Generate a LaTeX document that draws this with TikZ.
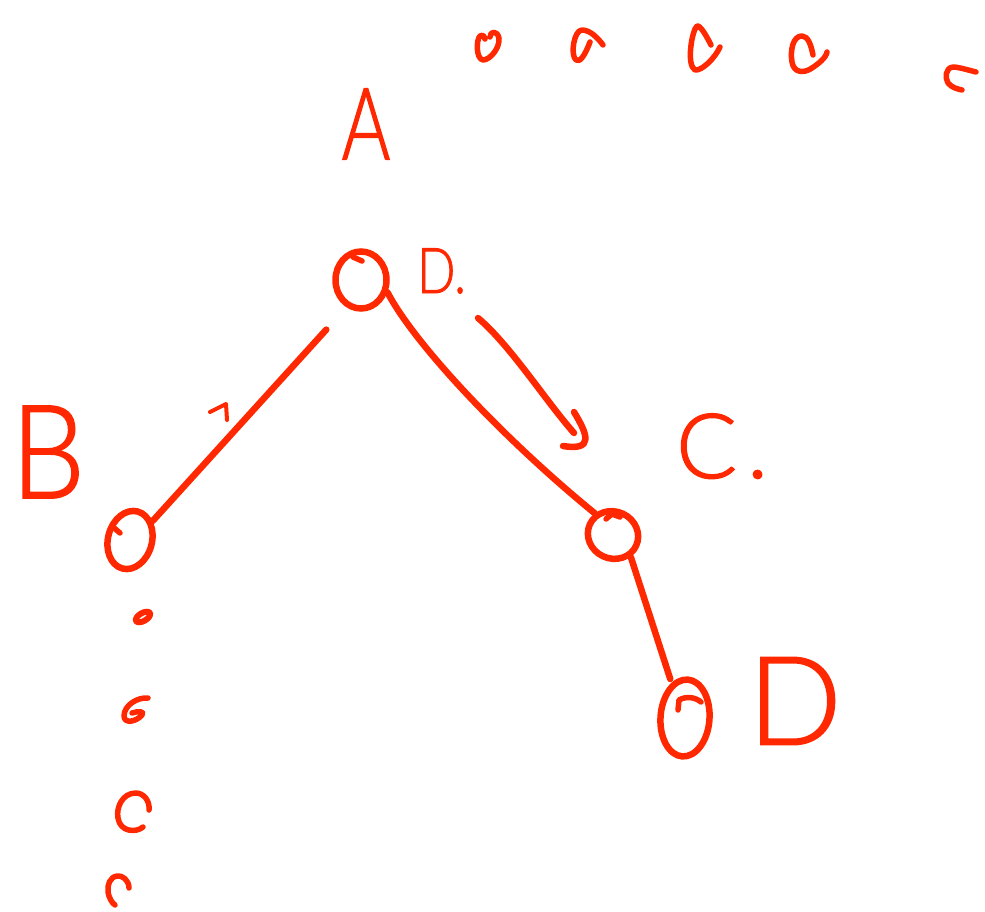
\documentclass[tikz,border=0pt]{standalone}
\usepackage{fontspec}
\IfFontExistsTF{Lato Light}{\setmainfont{Lato Light}[FakeBold=1.5]}{\setmainfont{Liberation Sans}}
\usetikzlibrary{shapes.geometric}
\definecolor{pen}{RGB}{255,40,0}
\begin{document}
\begin{tikzpicture}[x=1pt,y=-1pt,
  ink/.style={draw=pen,line width=6.5pt,line cap=round,line join=round},
  fine/.style={draw=pen,line width=5.5pt,line cap=round,line join=round},
  vertex/.style={ellipse,draw=pen,line width=6.5pt,inner sep=0pt},
  letter/.style={text=pen,inner sep=0pt,font=\fontsize{#1}{#1}\selectfont}]
\useasboundingbox (0,0) rectangle (985,912);

% tree vertices
\node[vertex,minimum width=51pt,minimum height=57pt] (a) at (361,280) {};
\node[vertex,minimum width=44pt,minimum height=59pt,rotate=-15] (b) at (130,540) {};
\node[vertex,minimum width=51pt,minimum height=47pt,rotate=-25] (c) at (613,535) {};
\node[vertex,minimum width=49pt,minimum height=77pt,rotate=-4] (d) at (685,718) {};

% pen-stroke starts on the vertices
\draw[fine] (353,257) -- (362,261);
\draw[fine] (113,527) -- (120,533);
\draw[fine] (606,519) -- (612,514) -- (620,517);
\draw[fine] (678,710) -- (679,700) .. controls (686,696) and (695,697) .. (701,702);

% labels
\node[letter=100,xscale=.74] (la) at (366,124) {A};
\node[letter=130,xscale=.9] (lb) at (48,452) {B};
\node[letter=90,anchor=base west] (lc) at (676,478) {C\kern10pt.};
\node[letter=123] (ld) at (795,701) {D};
\node[letter=63,xscale=.8,anchor=base west] (ln) at (417,293) {D.};

% edges
\draw[ink,shorten <=30pt] (a.-118) -- (b.55);
\draw[ink] (a.-25) .. controls (415,345) and (505,440) .. (c.155);
\draw[ink,shorten >=4pt] (c.-26) -- (d.115);

% traversal arrow
\coordinate (p) at (478,318);
\coordinate (q) at (574,433);
\draw[ink] (p) .. controls (510,345) and (545,400) .. (q);
\draw[ink] ([shift={(0,-21)}]q) .. controls ([shift={(14,2)}]q) and ([shift={(20,18)}]q) .. ([shift={(-11,13)}]q);

% small tick by the left edge
\draw[fine,line width=4pt] (210,412) -- (226,404) -- (227,420);

% row of shrinking marks along the top
\draw[fine] (490,37) .. controls (490,31) and (497,30) .. (499,38) .. controls (500,48) and (490,60) .. (483,60) .. controls (476,59) and (476,40) .. (480,36) .. controls (483,34) and (485,37) .. (485,39);
\draw[fine] (590,42) .. controls (585,55) and (580,63) .. (576,60) .. controls (570,55) and (574,30) .. (582,30) .. controls (590,30) and (598,38) .. (603,45);
\draw[fine] (711,45) .. controls (706,35) and (700,25) .. (697,26) .. controls (692,30) and (686,65) .. (695,70) .. controls (702,71) and (715,58) .. (720,47);
\draw[fine] (813,55) .. controls (811,45) and (808,36) .. (802,36) .. controls (793,36) and (790,50) .. (792,62) .. controls (794,74) and (805,73) .. (812,68) .. controls (818,64) and (826,58) .. (827,52);
\draw[fine] (976,72) .. controls (968,70) and (958,67) .. (953,67) .. controls (945,68) and (945,78) .. (948,83) .. controls (952,88) and (958,89) .. (962,90);

% column of shrinking marks down the left
\draw[fine,line width=6pt,rotate around={30:(143,617)}] (143,617) ellipse [x radius=8, y radius=4];
\draw[fine] (148,698) .. controls (138,697) and (124,705) .. (124,716) .. controls (124,724) and (136,722) .. (142,715) .. controls (145,711) and (138,711) .. (132,713);
\draw[fine] (149,810) .. controls (150,800) and (143,793) .. (136,793) .. controls (122,793) and (116,808) .. (118,818) .. controls (120,832) and (136,833) .. (143,827);
\draw[fine] (129,888) .. controls (129,880) and (122,875) .. (117,876) .. controls (110,877) and (107,885) .. (108,892) .. controls (109,898) and (112,903) .. (115,905);
\end{tikzpicture}
\end{document}
